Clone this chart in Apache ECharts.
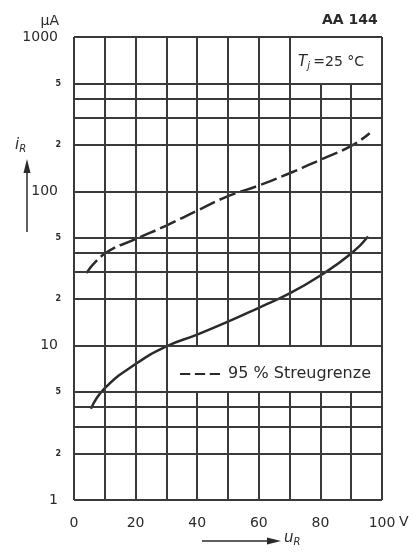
<!DOCTYPE html>
<html>
<head>
<meta charset="utf-8">
<script src="https://cdn.jsdelivr.net/npm/echarts@6/dist/echarts.min.js"></script>
<style>
  html, body { margin: 0; padding: 0; background: #fff; }
  #main { width: 414px; height: 556px; }
</style>
</head>
<body>
<div id="main"></div>
<script>
// reverse voltage u_R in V and reverse current i_R in µA
const typU = [5.5, 10, 20, 30, 40, 50, 60, 70, 80, 90, 95.5];
const typI = [3.9, 5.3, 7.6, 9.9, 11.8, 14.3, 17.6, 21.8, 28.5, 39.5, 51];
const maxU = [4, 10, 20, 30, 40, 50, 60, 70, 80, 90, 96];
const maxI = [29.5, 39.5, 49, 60, 75, 93, 109, 131, 160, 197, 238];

// grid lines of the paper
const xGrid = [0, 10, 20, 30, 40, 50, 60, 70, 80, 90, 100];
const yGridMajor = [1, 10, 100, 1000];
const yGridMinor = [2, 3, 4, 5, 20, 30, 40, 50, 200, 300, 400, 500];
const yMinorLabels = {2: '2', 5: '5', 20: '2', 50: '5', 200: '2', 500: '5'};
const xLabels = {0: '0', 20: '20', 40: '40', 60: '60', 80: '80', 100: '100'};

// fields left empty for the text boxes (axis units)
const gaps = [
    {x: [70, 100], y: [500, 1000]},
    {x: [30, 100], y: [5, 10]}
];

const ink = '#2a2a2a';
const gridInk = '#3a3a3a';
const font = 'DejaVu Sans';

let pair = (a, b) => a.map((v, i) => [v, b[i]]);

// vertical grid segments, cut where a text box sits
let gridLines = [];
xGrid.forEach(x => {
    let segs = [[1, 1000]];
    gaps.forEach(g => {
        if (x > g.x[0] && x < g.x[1]) {
            let out = [];
            segs.forEach(s => {
                if (g.y[0] > s[0]) out.push([s[0], Math.min(s[1], g.y[0])]);
                if (g.y[1] < s[1]) out.push([Math.max(s[0], g.y[1]), s[1]]);
            });
            segs = out;
        }
    });
    segs.forEach(s => gridLines.push([{coord: [x, s[0]]}, {coord: [x, s[1]]}]));
});
yGridMajor.forEach(y => gridLines.push([{coord: [0, y]}, {coord: [100, y]}]));
yGridMinor.forEach(y => {
    let lab = yMinorLabels[y];
    gridLines.push([{
        coord: [0, y],
        label: lab ? {
            show: true, position: 'start', formatter: lab, distance: 13,
            fontFamily: font, fontSize: 8, fontWeight: 'bold', color: ink
        } : {show: false}
    }, {coord: [100, y]}]);
});

let chart = echarts.init(document.getElementById('main'), null, {renderer: 'canvas'});

const option = {
    backgroundColor: '#fff',
    animation: false,
    grid: {left: 74, right: 32, top: 37, bottom: 56},
    xAxis: {
        type: 'value',
        min: 0,
        max: 100,
        interval: 10,
        axisLine: {show: false},
        axisTick: {show: false},
        splitLine: {show: false},
        axisLabel: {
            margin: 16,
            fontFamily: font,
            fontSize: 14,
            color: ink,
            formatter: v => xLabels[v] || ''
        }
    },
    yAxis: {
        type: 'log',
        logBase: 10,
        min: 1,
        max: 1000,
        axisLine: {show: false},
        axisTick: {show: false},
        splitLine: {show: false},
        axisLabel: {
            margin: 16,
            fontFamily: font,
            fontSize: 14,
            color: ink,
            formatter: v => String(Math.round(v))
        }
    },
    legend: {
        data: ['95 % Streugrenze'],
        left: 175,
        top: 361,
        itemWidth: 40,
        itemHeight: 2.5,
        itemGap: 0,
        selectedMode: false,
        icon: 'path://M0,0h10v2h-10z M14.5,0h10v2h-10z M29,0h10v2h-10z',
        itemStyle: {color: ink},
        textStyle: {fontFamily: font, fontSize: 16, color: ink, padding: [0, 0, 0, 3]}
    },
    series: [
        {
            name: 'grid',
            type: 'line',
            data: [],
            silent: true,
            z: 1,
            markLine: {
                silent: true,
                symbol: 'none',
                animation: false,
                lineStyle: {color: gridInk, width: 2, type: 'solid'},
                label: {show: false},
                emphasis: {disabled: true},
                data: gridLines
            }
        },
        {
            name: 'typisch',
            type: 'line',
            smooth: true,
            symbol: 'none',
            z: 3,
            lineStyle: {color: ink, width: 2.5},
            data: pair(typU, typI)
        },
        {
            name: '95 % Streugrenze',
            type: 'line',
            smooth: true,
            symbol: 'none',
            z: 3,
            itemStyle: {color: ink},
            lineStyle: {color: ink, width: 2.5, type: [17, 5]},
            data: pair(maxU, maxI)
        }
    ],
    graphic: [
        {type: 'text', right: 355, top: 14, style: {text: 'µA', font: '14px ' + font, fill: ink}},
        {type: 'text', left: 322, top: 13, style: {text: 'AA 144', font: 'bold 14px ' + font, fill: ink}},
        {
            type: 'text', left: 298, top: 55,
            style: {
                text: '{t|T}{s|j} {n|=25 °C}',
                rich: {
                    t: {font: 'italic 15px ' + font, fill: ink},
                    s: {font: 'italic 10px ' + font, fill: ink, verticalAlign: 'bottom', padding: [8, 0, 0, 0]},
                    n: {font: '14px ' + font, fill: ink}
                }
            }
        },
        {type: 'text', left: 399, top: 515, style: {text: 'V', font: '14px ' + font, fill: ink}},
        // i_R with upward arrow
        {
            type: 'text', left: 15, top: 138,
            style: {
                text: '{t|i}{s|R}',
                rich: {
                    t: {font: 'italic 15px ' + font, fill: ink},
                    s: {font: 'italic 10px ' + font, fill: ink, padding: [8, 0, 0, 0]}
                }
            }
        },
        {type: 'line', shape: {x1: 27, y1: 232, x2: 27, y2: 170}, style: {stroke: ink, lineWidth: 1.5}},
        {type: 'polygon', shape: {points: [[27, 159], [23.5, 173], [30.5, 173]]}, style: {fill: ink}},
        // u_R with arrow to the right
        {type: 'line', shape: {x1: 202, y1: 541, x2: 270, y2: 541}, style: {stroke: ink, lineWidth: 1.5}},
        {type: 'polygon', shape: {points: [[281, 541], [267, 537.5], [267, 544.5]]}, style: {fill: ink}},
        {
            type: 'text', left: 284, top: 531,
            style: {
                text: '{t|u}{s|R}',
                rich: {
                    t: {font: 'italic 15px ' + font, fill: ink},
                    s: {font: 'italic 10px ' + font, fill: ink, padding: [8, 0, 0, 0]}
                }
            }
        }
    ]
};

chart.setOption(option);
</script>
</body>
</html>
